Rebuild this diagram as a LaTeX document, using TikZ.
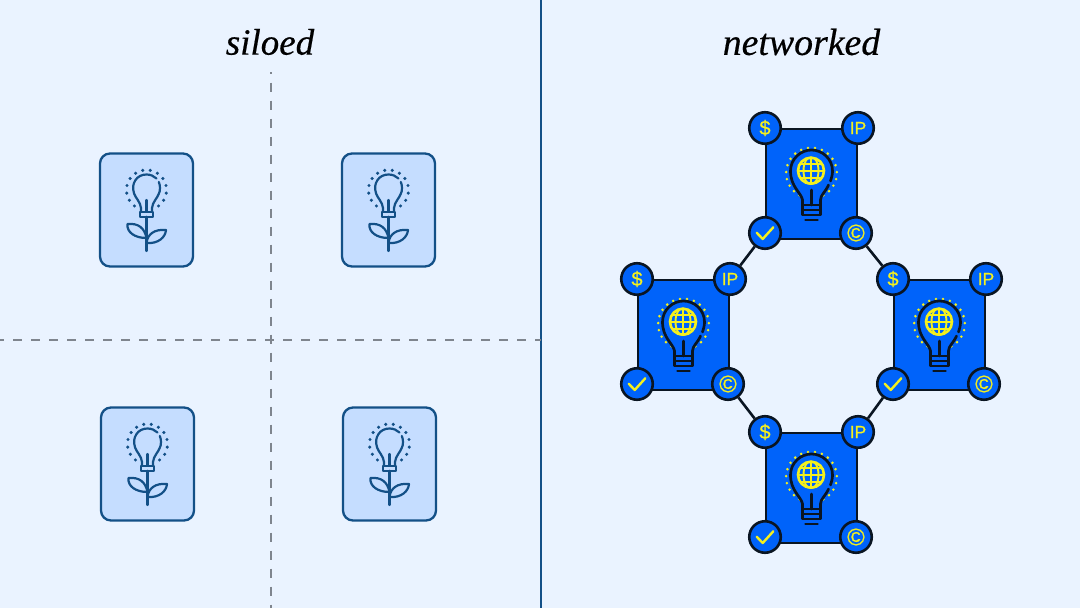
\documentclass[tikz,border=0pt]{standalone}
\usepackage{fontspec}
\setmainfont[ItalicFeatures={FakeBold=0.4}]{Liberation Serif}
\newfontfamily\markf[FakeBold=0.7]{Liberation Sans}
\definecolor{bgc}{HTML}{EAF3FF}
\definecolor{pale}{HTML}{C5DDFF}
\definecolor{navy}{HTML}{135087}
\definecolor{blu}{HTML}{0063FA}
\definecolor{yel}{HTML}{F4F01E}
\definecolor{ink}{HTML}{0A1522}
\definecolor{dashc}{HTML}{7F858E}
\tikzset{
  title/.style={font=\itshape\fontsize{37}{40}\selectfont, text=black, inner sep=0pt},
  panelline/.style={navy, line width=2pt},
  gridline/.style={dashc, line width=1.3pt, dash pattern=on 9pt off 9pt},
  plantbox/.style={draw=navy, fill=pale, line width=2.3pt, rounded corners=10pt},
  plantline/.style={navy, line width=2.2pt, line cap=round, line join=round},
  cardbox/.style={draw=ink, fill=blu, line width=2.4pt},
  cornerc/.style={circle, draw=ink, fill=blu, line width=2.6pt, minimum size=31.5pt, inner sep=0pt,
     text=yel, font=\markf\fontsize{17.5}{17.5}\selectfont},
  bulbline/.style={ink, line width=2.7pt, line cap=round, line join=round},
  link/.style={ink, line width=2.6pt},
  plant/.pic={
    \path[plantbox] (-46.5,-56.5) rectangle (46.5,56.5);
    \draw[plantline] (-5.5,1.7) -- (-5.5,-2) .. controls (-6,-8) and (-11,-12) .. (-12.4,-16.5)
        .. controls (-14.2,-22) and (-13.5,-26) .. (-11,-30)
        .. controls (-8.5,-33.7) and (-4.5,-35.5) .. (0,-35.5)
        .. controls (4,-35.5) and (7.5,-34) .. (10,-31.5);
    \draw[plantline] (12.3,-28) .. controls (13.2,-26) and (13.5,-24) .. (13.5,-22)
        .. controls (13.5,-19) and (13,-18) .. (12.4,-16.5)
        .. controls (11,-12) and (6,-8) .. (5.5,-2) -- (5.5,1.7);
    \draw[plantline] (-6.5,1.7) rectangle (6.5,6.7);
    \draw[plantline] (0,-10) -- (0,1.7);
    \draw[plantline] (0,6.7) -- (0,41);
    \draw[plantline] (0,28) .. controls (-2,18) and (-8,13) .. (-19,14) .. controls (-20,22) and (-12,28) .. (0,28);
    \draw[plantline] (0,33) .. controls (1,24) and (8,19) .. (19.5,20) .. controls (19,27) and (12,34) .. (0,33);
    \foreach \a in {-53,-31,...,233}
      \fill[navy] (\a:20pt) ++(0,-20) circle (1.7pt);
  },
  card/.pic={
    \path[cardbox] (-45.5,-55) rectangle (45.5,55);
    \foreach \a in {-62,-46,...,242}
      \fill[yel] (\a:25.3pt) ++(0,-11) circle (1.4pt);
    \begin{scope}
      \clip (-0.5,-13.3) circle (14pt);
      \foreach \u in {-7,0,7}
        \draw[yel, line width=1.9pt] (-16,\u-13.3) -- (16,\u-13.3);
      \draw[yel, line width=1.9pt] (-0.5,-30) -- (-0.5,3);
      \draw[yel, line width=1.9pt] (-0.5,-13.3) ellipse (7.5pt and 14pt);
    \end{scope}
    \draw[yel, line width=2.6pt] (-0.5,-13.3) circle (13pt);
    \draw[bulbline] (-9,21) -- (-9,16) .. controls (-10,9) and (-21,3) .. (-21,-13)
       .. controls (-21,-25) and (-11,-34) .. (0,-34)
       .. controls (11,-34) and (21,-25) .. (21,-13) .. controls (21,-9) and (20,-6) .. (19,-3);
    \draw[bulbline] (17,1) .. controls (14,8) and (9,11) .. (9,16) -- (9,21);
    \draw[bulbline] (-9,21) rectangle (9,31);
    \draw[bulbline] (-9,26) -- (9,26);
    \draw[bulbline] (-6,36) -- (6,36);
    \draw[bulbline] (0,6) -- (0,21);
    \node[cornerc] (dl) at (-46.5,-56) {\fontsize{20}{20}\selectfont\$};
    \node[cornerc] (ip) at (46.5,-56) {IP};
    \node[cornerc] (ck) at (-46.5,49) {};
    \node[cornerc] (cp) at (44.5,49) {\fontsize{24}{24}\selectfont ©};
    \draw[yel, line width=2.4pt, line cap=round, line join=round]
       (-54.8,48.7) -- (-48.8,55) -- (-38.2,43.3);
  }
}
\begin{document}
\begin{tikzpicture}[x=1pt,y=-1pt]
\useasboundingbox (0,0) rectangle (1080,608);
\fill[bgc] (0,0) rectangle (1080,608);
\node[title] (siloed) at (270,42) {siloed};
\node[title, font=\itshape\fontsize{37.8}{40}\selectfont] (networked) at (801.5,42) {networked};
\coordinate (divtop) at (541,0);
\coordinate (divbot) at (541,608);
\draw[panelline] (divtop) -- (divbot);
\coordinate (vtop) at (271,72);
\coordinate (vbot) at (271,608);
\coordinate (hl) at (0,340);
\coordinate (hr) at (541,340);
\draw[gridline, dash phase=7.5pt] (vtop) -- (vbot);
\draw[gridline, dash phase=4.7pt] (hl) -- (hr);
\pic (pa) at (146.5,210) {plant};
\pic (pb) at (388.5,210) {plant};
\pic (pc) at (147.5,464) {plant};
\pic (pd) at (389.5,464) {plant};
\pic (t) at (811.5,184) {card};
\pic (l) at (683.5,335) {card};
\pic (r) at (939.5,335) {card};
\pic (b) at (811.5,488) {card};
\draw[link] (tck) -- (lip);
\draw[link] (tcp) -- (rdl);
\draw[link] (lcp) -- (bdl);
\draw[link] (rck) -- (bip);
\end{tikzpicture}
\end{document}
